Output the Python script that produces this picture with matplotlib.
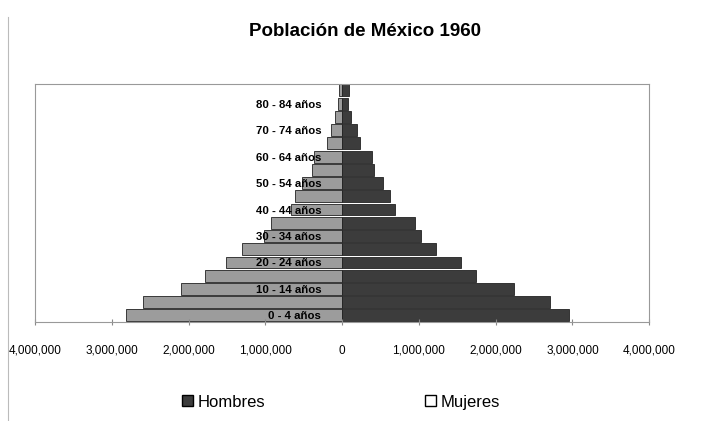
import matplotlib.pyplot as plt
from matplotlib.patches import Patch

plt.rcParams['font.family'] = ['Liberation Sans', 'DejaVu Sans']

# grupos de edad (de abajo hacia arriba)
edades = ['0 - 4 años', '5 - 9 años', '10 - 14 años', '15 - 19 años', '20 - 24 años',
          '25 - 29 años', '30 - 34 años', '35 - 39 años', '40 - 44 años', '45 - 49 años',
          '50 - 54 años', '55 - 59 años', '60 - 64 años', '65 - 69 años', '70 - 74 años',
          '75 - 79 años', '80 - 84 años', '85 y más']

# poblacion por sexo
mujeres = [2820000, 2600000, 2100000, 1790000, 1510000, 1300000, 1020000, 930000, 670000,
           610000, 520000, 390000, 360000, 200000, 150000, 90000, 50000, 40000]
hombres = [2950000, 2710000, 2240000, 1740000, 1550000, 1220000, 1030000, 950000, 690000,
           630000, 530000, 420000, 390000, 230000, 190000, 110000, 70000, 90000]

ticks_x = [-4000000, -3000000, -2000000, -1000000, 0, 1000000, 2000000, 3000000, 4000000]
etiquetas_x = ['4,000,000', '3,000,000', '2,000,000', '1,000,000', '0',
               '1,000,000', '2,000,000', '3,000,000', '4,000,000']

color_h = '#3c3c3c'
color_m = '#9c9c9c'

fig = plt.figure(figsize=(7.15, 4.21), dpi=100)
ax = fig.add_axes([0.049, 0.235, 0.859, 0.566])

pos = range(len(edades))
ax.barh(pos, [-v for v in mujeres], height=0.9, color=color_m, edgecolor='#222222', linewidth=0.6)
ax.barh(pos, hombres, height=0.9, color=color_h, edgecolor='#222222', linewidth=0.6)

ax.set_xlim(-4000000, 4000000)
ax.set_ylim(-0.5, len(edades) - 0.5)

# eje de categorias en el centro (antes de poner las etiquetas, porque las reinicia)
ax.spines['left'].set_position(('data', 0))
ax.spines['left'].set_visible(False)

ax.set_xticks(ticks_x)
ax.set_xticklabels(etiquetas_x, fontsize=8.5)
ax.tick_params(axis='x', direction='inout', length=5, color='#888888', pad=14)

# etiquetas de edad solo cada dos grupos
ax.set_yticks(list(pos))
ax.set_yticklabels([e if i % 2 == 0 else '' for i, e in enumerate(edades)],
                   fontsize=8.2, fontweight='bold')
ax.tick_params(axis='y', length=0, pad=15)

for s in ['top', 'right', 'bottom']:
    ax.spines[s].set_color('#999999')
    ax.spines[s].set_linewidth(0.8)
ax.plot([0, 0], [0, 1], transform=ax.transAxes, color='#999999', lw=0.8, clip_on=False)

fig.text(0.51, 0.924, 'Población de México 1960', ha='center', va='center',
         fontsize=13.5, fontweight='bold')

handles = [Patch(facecolor=color_h, edgecolor='black', label='Hombres'),
           Patch(facecolor='white', edgecolor='black', label='Mujeres')]
fig.legend(handles=handles, loc='center', bbox_to_anchor=(0.477, 0.045), ncol=2,
           frameon=False, fontsize=12, handlelength=0.65, handleheight=0.65,
           handletextpad=0.3, columnspacing=9.6)

# borde del grafico
fig.add_artist(plt.Line2D([0.011, 0.011], [0.0, 0.96], color='#bbbbbb', lw=0.8))

plt.savefig('out.png', dpi=100)
